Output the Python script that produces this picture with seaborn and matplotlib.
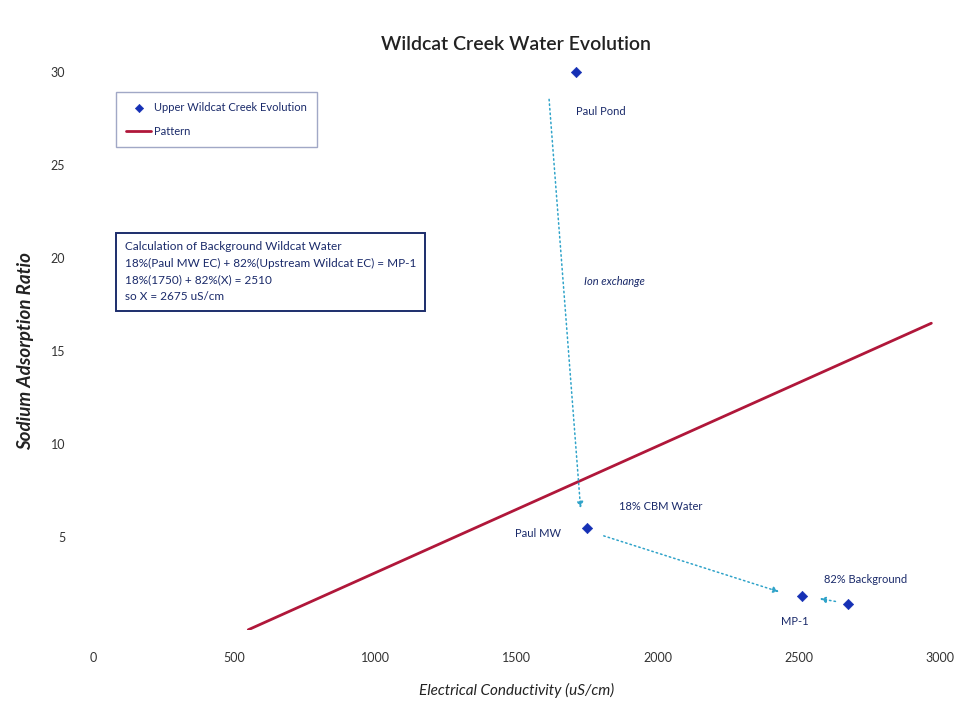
import matplotlib
matplotlib.use("Agg")
import matplotlib.pyplot as plt
import seaborn as sns
import pandas as pd

# Sample points: EC (uS/cm) and SAR
site_names = ["Paul Pond", "Paul MW", "MP-1", "82% Background"]
site_ec = [1710, 1750, 2510, 2675]
site_sar = [30.0, 5.5, 1.8, 1.4]

# Reference pattern line
pattern_ec = [550, 2970]
pattern_sar = [0.0, 16.5]

# Evolution paths (start EC, start SAR, end EC, end SAR)
ion_path = (1615, 28.7, 1728, 6.4)
mix_path = (1800, 5.1, 2440, 2.0)
bg_path = (2640, 1.5, 2565, 1.7)

x_ticks = [0, 500, 1000, 1500, 2000, 2500, 3000]
y_ticks = [5, 10, 15, 20, 25, 30]

sns.set_theme(style="white")
plt.rcParams["font.family"] = ["Lato", "DejaVu Sans"]

fig = plt.figure(figsize=(9.59, 7.10), dpi=100)
ax = fig.add_axes([0.097, 0.113, 0.883, 0.785])

pts = pd.DataFrame({"EC": site_ec, "SAR": site_sar})
pat = pd.DataFrame({"EC": pattern_ec, "SAR": pattern_sar})

sns.lineplot(data=pat, x="EC", y="SAR", color="#b0173a", linewidth=2,
             ax=ax, label="Pattern", zorder=2)
sns.scatterplot(data=pts, x="EC", y="SAR", marker="D", s=28, color="#1530b5",
                edgecolor="#1530b5", ax=ax, label="Upper Wildcat Creek Evolution",
                zorder=4, clip_on=False)

arrow_style = dict(arrowstyle="-|>", color="#2fa3c9", lw=1.1, linestyle=(0, (1, 2)),
                   mutation_scale=9)
for sx, sy, ex, ey in (ion_path, mix_path, bg_path):
    ax.annotate("", xy=(ex, ey), xytext=(sx, sy), arrowprops=arrow_style, zorder=3)

lbl = dict(fontsize=8, color="#1a2a6a")
ax.text(1710, 27.9, "Paul Pond", ha="left", va="center", **lbl)
ax.text(1740, 18.75, "Ion exchange", ha="left", va="center", style="italic", **lbl)
ax.text(1496, 5.2, "Paul MW", ha="left", va="center", **lbl)
ax.text(1862, 6.65, "18% CBM Water", ha="left", va="center", **lbl)
ax.text(2590, 2.7, "82% Background", ha="left", va="center", **lbl)
ax.text(2436, 0.45, "MP-1", ha="left", va="center", **lbl)

calc = ("Calculation of Background Wildcat Water\n"
        "18%(Paul MW EC) + 82%(Upstream Wildcat EC) = MP-1\n"
        "18%(1750) + 82%(X) = 2510\n"
        "so X = 2675 uS/cm")
ax.text(112, 20.9, calc, fontsize=8.5, color="#1a2a6a", ha="left", va="top",
        linespacing=1.6,
        bbox=dict(boxstyle="square,pad=0.75", facecolor="white", edgecolor="#1c2d6b", linewidth=1.4))

ax.set_xlim(0, 3000)
ax.set_ylim(0, 30)
ax.set_xticks(x_ticks)
ax.set_yticks(y_ticks)
ax.tick_params(axis="y", labelsize=9, colors="#333333", length=0, pad=20)
ax.tick_params(axis="x", labelsize=9, colors="#333333", length=0, pad=16)
for sp in ax.spines.values():
    sp.set_visible(False)

ax.set_title("Wildcat Creek Water Evolution", fontsize=14, color="#222222", pad=16,
             weight="semibold")
ax.set_xlabel("Electrical Conductivity (uS/cm)", fontsize=11, style="italic", color="#222222",
              labelpad=14)
ax.set_ylabel("Sodium Adsorption Ratio", fontsize=13.5, style="italic", weight="bold",
              color="#222222", labelpad=12)

# scatter series listed first in the legend
handles, labels = ax.get_legend_handles_labels()
order = [labels.index("Upper Wildcat Creek Evolution"), labels.index("Pattern")]
leg = ax.legend([handles[i] for i in order], [labels[i] for i in order],
                loc="upper left", bbox_to_anchor=(0.021, 0.975), fontsize=8,
                frameon=True, fancybox=False, borderpad=0.9, labelspacing=1.2,
                handlelength=2.2, handletextpad=0.3, markerscale=0.8)
leg.get_frame().set_edgecolor("#8a92b8")
leg.get_frame().set_linewidth(1.0)
for t in leg.get_texts():
    t.set_color("#1a2a6a")

fig.savefig("out.png", dpi=100, facecolor="white")
